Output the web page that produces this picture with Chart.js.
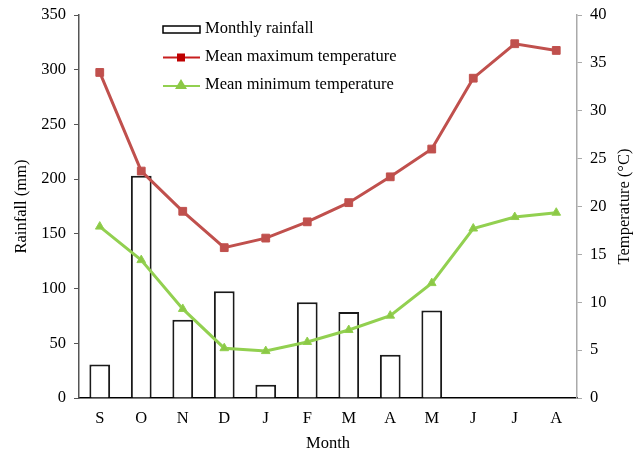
<!DOCTYPE html>
<html>
<head>
<meta charset="utf-8">
<script src="https://cdn.jsdelivr.net/npm/chart.js@4"></script>
<style>
    html, body { margin: 0; padding: 0; background: #fff; }
    #wrap { width: 644px; height: 455px; }
</style>
</head>
<body>
<div id="wrap"><canvas id="climate-chart"></canvas></div>
<script>
const months = ['S', 'O', 'N', 'D', 'J', 'F', 'M', 'A', 'M', 'J', 'J', 'A'];
const rainfall = [30.5, 203, 71.5, 97.5, 12, 87.5, 78.5, 39.5, 80, 0, 0.6, 0];
const maxTemp = [34.0, 23.7, 19.5, 15.7, 16.7, 18.4, 20.4, 23.1, 26.0, 33.4, 37.0, 36.3];
const minTemp = [17.9, 14.4, 9.3, 5.2, 4.9, 5.85, 7.1, 8.6, 12.0, 17.7, 18.9, 19.35];

const serif = "'Liberation Serif', 'Times New Roman', serif";
const red = 'rgb(192, 80, 77)';
const green = 'rgb(146, 208, 80)';

// legend drawn inside the plot, like the original
const innerLegend = {
    id: 'innerLegend',
    afterDatasetsDraw(chart) {
        const ctx = chart.ctx;
        const x0 = 163, x1 = 200, tx = 205;
        ctx.save();
        ctx.font = '16.5px ' + serif;
        ctx.fillStyle = '#000';
        ctx.textBaseline = 'middle';

        ctx.lineWidth = 1.5;
        ctx.strokeStyle = '#000';
        ctx.fillStyle = '#fff';
        ctx.fillRect(x0, 26, x1 - x0, 7);
        ctx.strokeRect(x0, 26, x1 - x0, 7);
        ctx.fillStyle = '#000';
        ctx.fillText('Monthly rainfall', tx, 29);

        ctx.lineWidth = 2;
        ctx.strokeStyle = 'rgb(200, 30, 30)';
        ctx.beginPath(); ctx.moveTo(x0, 57.5); ctx.lineTo(x1, 57.5); ctx.stroke();
        ctx.fillStyle = 'rgb(190, 0, 0)';
        ctx.fillRect(177, 53.5, 8, 8);
        ctx.fillStyle = '#000';
        ctx.fillText('Mean maximum temperature', tx, 57);

        ctx.strokeStyle = green;
        ctx.beginPath(); ctx.moveTo(x0, 86); ctx.lineTo(x1, 86); ctx.stroke();
        ctx.fillStyle = 'rgb(140, 200, 70)';
        ctx.beginPath(); ctx.moveTo(181, 79); ctx.lineTo(187, 89); ctx.lineTo(175, 89); ctx.closePath(); ctx.fill();
        ctx.fillStyle = '#000';
        ctx.fillText('Mean minimum temperature', tx, 85);
        ctx.restore();
    }
};

// right axis title reads bottom-to-top in the original
const rightTitle = {
    id: 'rightTitle',
    afterDraw(chart) {
        const ctx = chart.ctx;
        const area = chart.chartArea;
        ctx.save();
        ctx.font = '16.5px ' + serif;
        ctx.fillStyle = '#000';
        ctx.textAlign = 'center';
        ctx.textBaseline = 'middle';
        ctx.translate(625, (area.top + area.bottom) / 2);
        ctx.rotate(-Math.PI / 2);
        ctx.fillText('Temperature (\u00B0C)', 0, 0);
        ctx.restore();
    }
};

const drawClimateChart = () => {
    return new Chart(document.getElementById('climate-chart').getContext('2d'), {
        type: 'bar',
        data: {
            labels: months,
            datasets: [{
                type: 'line',
                label: 'Mean maximum temperature',
                data: maxTemp,
                yAxisID: 'yTemp',
                borderColor: red,
                backgroundColor: red,
                borderWidth: 3,
                pointStyle: 'rect',
                pointRadius: 5.5,
                pointBorderWidth: 1,
                tension: 0,
                order: 1
            }, {
                type: 'line',
                label: 'Mean minimum temperature',
                data: minTemp,
                yAxisID: 'yTemp',
                borderColor: green,
                backgroundColor: 'rgb(140, 200, 70)',
                borderWidth: 3,
                pointStyle: 'triangle',
                pointRadius: 5,
                pointBorderWidth: 1,
                tension: 0,
                order: 2
            }, {
                label: 'Monthly rainfall',
                data: rainfall,
                yAxisID: 'yRain',
                backgroundColor: '#fff',
                borderColor: '#1a1a1a',
                borderWidth: 2,
                barPercentage: 0.5,
                categoryPercentage: 1,
                order: 3
            }]
        },
        options: {
            responsive: true,
            maintainAspectRatio: false,
            animation: false,
            layout: { padding: { top: 15, left: 0, right: 0, bottom: 0 } },
            plugins: {
                legend: { display: false },
                tooltip: { enabled: false }
            },
            scales: {
                x: {
                    grid: { display: false },
                    border: { display: true, color: '#000', width: 1.5 },
                    ticks: { color: '#000', font: { family: serif, size: 16.5 }, padding: 3 },
                    title: { display: true, text: 'Month', color: '#000', font: { family: serif, size: 16.5 }, padding: { top: 0, bottom: 1 } },
                    afterFit: (scale) => { scale.height = 57; }
                },
                yRain: {
                    position: 'left',
                    min: 0,
                    max: 350,
                    ticks: { stepSize: 50, color: '#000', font: { family: serif, size: 16.5 }, padding: 8 },
                    grid: { drawOnChartArea: false, tickLength: 5, color: '#555' },
                    border: { color: '#555', width: 1.5 },
                    title: { display: true, text: 'Rainfall (mm)', color: '#000', font: { family: serif, size: 16.5 }, padding: { top: 12, bottom: 0 } },
                    afterFit: (scale) => { scale.width = 79; scale.paddingTop = 0; }
                },
                yTemp: {
                    position: 'right',
                    min: 0,
                    max: 40,
                    ticks: { stepSize: 5, color: '#000', font: { family: serif, size: 16.5 }, padding: 8 },
                    grid: { drawOnChartArea: false, tickLength: 5, color: '#aaa' },
                    border: { color: '#aaa', width: 1.5 },
                    afterFit: (scale) => { scale.width = 67; scale.paddingTop = 0; }
                }
            }
        },
        plugins: [innerLegend, rightTitle]
    });
};

drawClimateChart();
</script>
</body>
</html>
